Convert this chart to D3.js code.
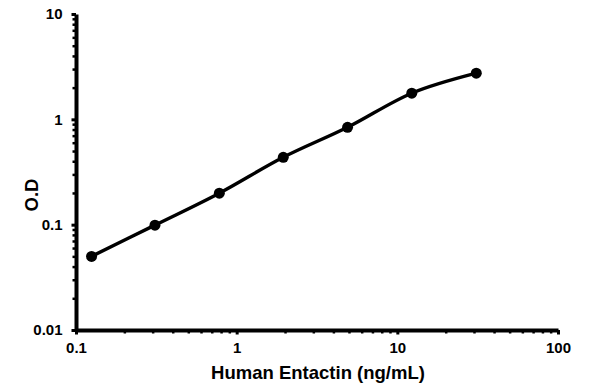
<!DOCTYPE html>
<html><head><meta charset="utf-8">
<script src="https://cdn.jsdelivr.net/npm/d3@7"></script>
<style>body{margin:0;background:#fff}svg{display:block}text{font-family:"Liberation Sans",Arial,sans-serif;font-weight:bold;fill:#000}</style>
</head><body><svg id="c" width="595" height="392"></svg>
<script>
const concentrations = [0.125, 0.31, 0.78, 1.95, 4.9, 12.3, 31];
const odValues = [0.050, 0.099, 0.199, 0.436, 0.84, 1.77, 2.74];
const xTicks = [0.1, 1, 10, 100];
const yTicks = [0.01, 0.1, 1, 10];
const xTitle = "Human Entactin (ng/mL)";
const yTitle = "O.D";

const svg = d3.select("#c");
const x = d3.scaleLog().domain([0.1, 100]).range([76, 558]);
const y = d3.scaleLog().domain([0.01, 10]).range([330, 14]);

function minors(dom){const out=[];for(let d=dom[0];d<dom[1]*0.999;d*=10){for(let k=2;k<=9;k++)out.push(d*k);}return out;}

// minor ticks
svg.append("g").attr("transform","translate(0,330)")
  .call(d3.axisBottom(x).tickValues(minors([0.1,100])).tickSize(3.5).tickFormat(""))
  .call(g=>g.select(".domain").remove())
  .call(g=>g.selectAll("line").attr("stroke","#000").attr("stroke-width",2.5));
svg.append("g").attr("transform","translate(76,0)")
  .call(d3.axisLeft(y).tickValues(minors([0.01,10])).tickSize(3.5).tickFormat(""))
  .call(g=>g.select(".domain").remove())
  .call(g=>g.selectAll("line").attr("stroke","#000").attr("stroke-width",2.5));

// major axes
const xa = svg.append("g").attr("transform","translate(0,330)")
  .call(d3.axisBottom(x).tickValues(xTicks).tickSize(4.5).tickSizeOuter(0).tickPadding(8).tickFormat(d=>String(d)));
const ya = svg.append("g").attr("transform","translate(76,0)")
  .call(d3.axisLeft(y).tickValues(yTicks).tickSize(4.5).tickSizeOuter(0).tickPadding(9).tickFormat(d=>String(d)));
[xa,ya].forEach(g=>{
  g.select(".domain").attr("stroke","#000").attr("stroke-width",4);
  g.selectAll(".tick line").attr("stroke","#000").attr("stroke-width",3);
  g.selectAll(".tick text").style("font-size","15px").style("font-family","'Liberation Sans',Arial,sans-serif").style("font-weight","bold").attr("fill","#000");
});

// line
const pts = concentrations.map((c,i)=>[x(c), y(odValues[i])]);
svg.append("path").attr("d", d3.line().curve(d3.curveCatmullRom.alpha(0.5))(pts))
  .attr("fill","none").attr("stroke","#000").attr("stroke-width",3.4);
svg.selectAll("circle.pt").data(concentrations).enter().append("circle")
  .attr("cx",(d)=>x(d)).attr("cy",(d,i)=>y(odValues[i])).attr("r",5.5).attr("fill","#000");

// titles
svg.append("text").attr("x",318).attr("y",379).attr("text-anchor","middle").style("font-size","18.5px").text(xTitle);
svg.append("text").attr("transform","translate(38,195) rotate(-90)").attr("text-anchor","middle").style("font-size","18.5px").text(yTitle);
</script></body></html>
